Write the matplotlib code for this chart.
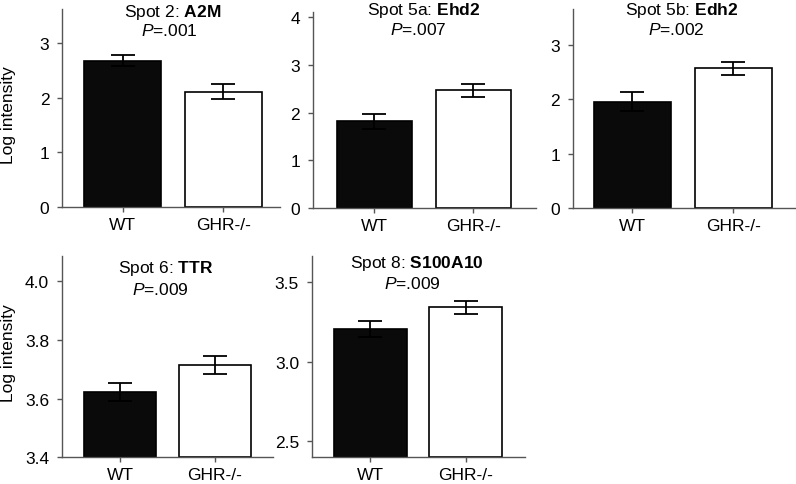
import numpy as np
import matplotlib
matplotlib.use('Agg')
import matplotlib.pyplot as plt

plt.rcParams['font.family'] = ['Liberation Sans', 'DejaVu Sans']
plt.rcParams['mathtext.fontset'] = 'custom'
plt.rcParams['mathtext.rm'] = 'Liberation Sans'
plt.rcParams['mathtext.it'] = 'Liberation Sans:italic'
plt.rcParams['mathtext.bf'] = 'Liberation Sans:bold'

W, H = 796, 485
FS = 12.5

# data
groups = ['WT', 'GHR-/-']
spots = ['Spot 2', 'Spot 5a', 'Spot 5b', 'Spot 6', 'Spot 8']
proteins = ['A2M', 'Ehd2', 'Edh2', 'TTR', 'S100A10']
p_values = ['.001', '.007', '.002', '.009', '.009']
wt_mean = [2.67, 1.82, 1.96, 3.622, 3.207]
wt_err = [0.10, 0.16, 0.17, 0.030, 0.050]
ghr_mean = [2.11, 2.47, 2.57, 3.715, 3.343]
ghr_err = [0.14, 0.135, 0.125, 0.030, 0.040]
y_ticks = [[0, 1, 2, 3], [0, 1, 2, 3, 4], [0, 1, 2, 3],
           [3.4, 3.6, 3.8, 4.0], [2.5, 3.0, 3.5]]
y_tick_labels = [['0', '1', '2', '3'], ['0', '1', '2', '3', '4'],
                 ['0', '1', '2', '3'], ['3.4', '3.6', '3.8', '4.0'],
                 ['2.5', '3.0', '3.5']]
y_limits = [(0, 3.62), (0, 4.1), (0, 3.66), (3.4, 4.085), (2.4, 3.667)]
x_limits = [(-0.6, 1.56), (-0.62, 1.63), (-0.59, 1.61), (-0.615, 1.614),
            (-0.616, 1.624)]

# axes boxes in pixels: left, right, top, bottom
boxes = [(62, 280, 10, 208), (312.7, 536, 13, 209.3), (572.7, 795, 10, 209.3),
         (61.7, 273, 257.3, 458.3), (311.7, 525, 256.7, 458.3)]
# title line centres in pixels: (x1, y1, x2, y2)
title_pos = [(173, 12, 169, 31), (423.7, 11, 418, 30), (681.7, 11, 676, 30),
             (165.7, 269, 160.5, 290), (416.7, 264, 412, 284)]

fig = plt.figure(figsize=(W / 100, H / 100), dpi=100)

for i in range(5):
    l, r, t, b = boxes[i]
    ax = fig.add_axes([l / W, 1 - b / H, (r - l) / W, (b - t) / H])
    x = np.arange(2)
    bottom = y_limits[i][0]
    heights = [wt_mean[i] - bottom, ghr_mean[i] - bottom]
    ax.bar(x, heights, bottom=bottom, width=0.76,
           color=['#0a0a0a', 'white'], edgecolor='black', linewidth=1.2,
           zorder=2)
    ax.errorbar(x, [wt_mean[i], ghr_mean[i]], yerr=[wt_err[i], ghr_err[i]],
                fmt='none', ecolor='black', elinewidth=1.3, capsize=8.3,
                capthick=1.3, zorder=3)
    ax.set_xlim(*x_limits[i])
    ax.set_ylim(*y_limits[i])
    ax.set_xticks(x)
    ax.set_xticklabels(groups)
    ax.set_yticks(y_ticks[i])
    ax.set_yticklabels(y_tick_labels[i])
    for s in ['top', 'right']:
        ax.spines[s].set_visible(False)
    for s in ['left', 'bottom']:
        ax.spines[s].set_color('#555555')
        ax.spines[s].set_linewidth(1.0)
    ax.tick_params(axis='y', direction='out', length=3.6, width=1.0,
                   color='#555555', labelsize=FS, pad=5.5)
    ax.tick_params(axis='x', direction='out', length=3.6, width=1.0,
                   color='#555555', labelsize=FS, pad=3.5)

    x1, y1, x2, y2 = title_pos[i]
    fig.text(x1 / W, 1 - y1 / H,
             spots[i] + ': $\\mathbf{' + proteins[i] + '}$',
             ha='center', va='center', fontsize=FS)
    fig.text(x2 / W, 1 - y2 / H, '$\\mathit{P}$=' + p_values[i],
             ha='center', va='center', fontsize=FS)

fig.text(9 / W, 1 - 115 / H, 'Log intensity', rotation=90,
         ha='center', va='center', fontsize=FS)
fig.text(9 / W, 1 - 353 / H, 'Log intensity', rotation=90,
         ha='center', va='center', fontsize=FS)

fig.savefig('out.png', dpi=100)
